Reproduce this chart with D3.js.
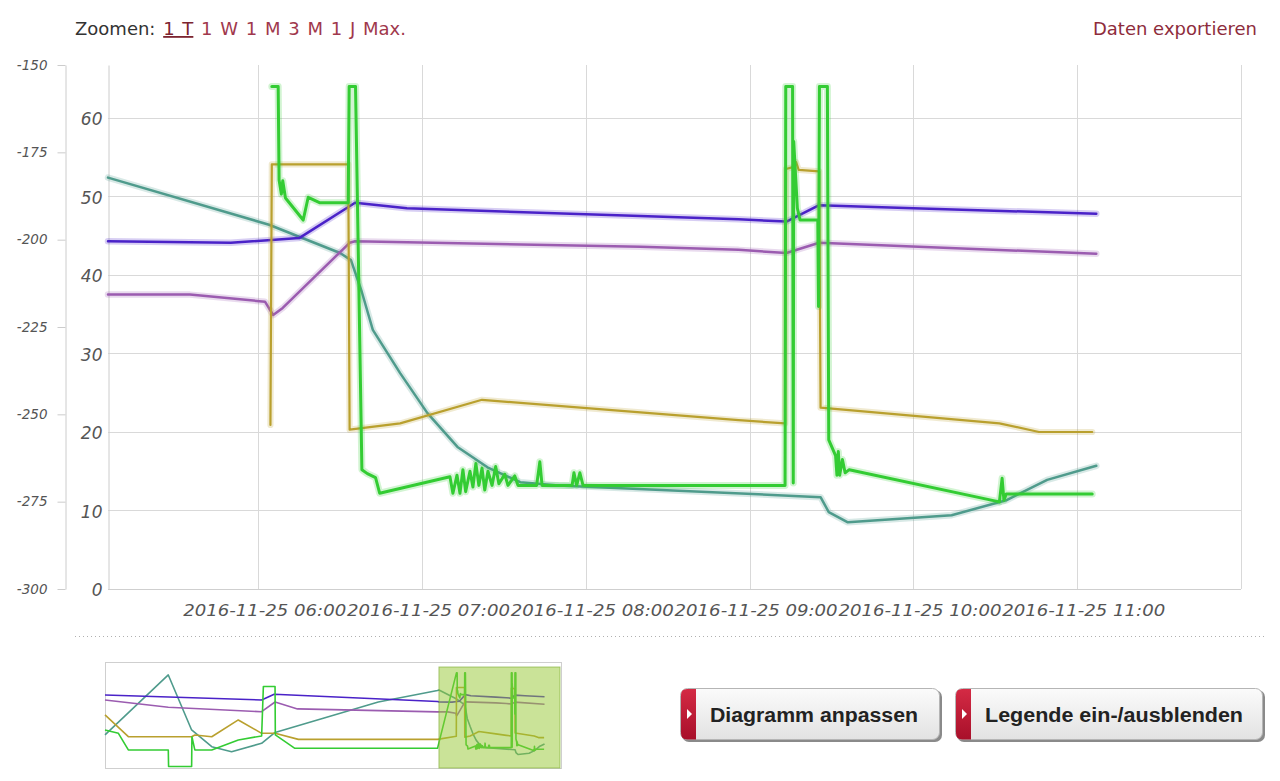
<!DOCTYPE html>
<html><head><meta charset="utf-8">
<script src="https://cdn.jsdelivr.net/npm/d3@7"></script>
<style>body{margin:0;background:#fff;}svg{display:block}</style>
</head><body><svg id="c" width="1280" height="781"></svg>
<script>
// ---------------- DATA ----------------
const day = "2016-11-25";
const xTickLabels = ["2016-11-25 06:00","2016-11-25 07:00","2016-11-25 08:00","2016-11-25 09:00","2016-11-25 10:00","2016-11-25 11:00"];
const yTicksInner = [0,10,20,30,40,50,60];
const yTicksOuter = [-300,-275,-250,-225,-200,-175,-150];
const zoomLabels = ["1 T","1 W","1 M","3 M","1 J","Max."];

const tealTimes  = ["05:05:00","06:04:00","06:30:00","06:34:00","06:38:00","06:42:00","06:52:00","07:02:00","07:13:00","07:24:00","07:36:00","07:50:00","09:26:00","09:29:00","09:36:00","10:14:00","10:34:00","10:49:00","11:07:00"];
const tealValues = [52.4,46.4,42.8,41.9,37.8,33.0,27.5,22.4,18.1,15.5,13.6,13.2,11.7,9.8,8.5,9.4,11.3,13.9,15.7];

const purpleTimes  = ["05:05:00","05:50:00","06:15:00","06:35:30","06:54:30","08:20:00","08:56:00","09:13:30","09:25:30","10:00:00","11:07:00"];
const purpleValues = [44.3,44.1,44.7,49.2,48.5,47.5,47.1,46.8,48.9,48.5,47.8];

const magentaTimes  = ["05:05:00","05:35:00","06:02:30","06:05:30","06:09:00","06:33:30","06:35:30","08:20:00","08:56:00","09:13:30","09:25:30","11:07:00"];
const magentaValues = [37.5,37.5,36.6,34.9,35.8,44.1,44.3,43.6,43.2,42.8,44.1,42.7];

const goldTimes  = ["06:04:30","06:05:00","06:33:00","06:33:30","06:52:00","07:22:00","08:20:00","08:56:00","09:13:00","09:13:20","09:16:30","09:17:00","09:18:00","09:25:30","09:26:00","10:31:30","10:46:00","11:05:30"];
const goldValues = [20.9,54.1,54.1,20.3,21.1,24.1,22.5,21.5,21.1,53.5,53.8,54.4,53.4,53.2,23.1,21.1,20.0,20.0];

const greenTimes = ["06:05:00","06:07:20","06:07:40","06:08:30","06:09:00","06:10:00","06:16:30","06:18:20","06:22:40","06:33:00",
 "06:33:20","06:35:40","06:38:00","06:40:00","06:43:00","06:44:30","07:10:15","07:11:20","07:12:50","07:13:55",
 "07:15:00","07:16:00","07:17:35","07:18:40","07:19:45","07:20:50","07:22:00","07:23:00","07:24:10","07:25:40",
 "07:27:00","07:28:10","07:30:20","07:31:30","07:34:00","07:35:10","07:42:00","07:43:10","07:44:00","07:55:00",
 "07:55:40","07:56:40","07:57:50","07:59:00","09:13:00","09:13:15","09:15:45","09:16:00","09:16:10","09:17:30",
 "09:18:30","09:25:00","09:25:15","09:25:35","09:28:30","09:29:00","09:31:30","09:32:00","09:32:30","09:33:00",
 "09:34:00","09:35:00","09:36:30","10:31:30","10:32:30","10:33:10","10:34:00","11:05:30"];
const greenValues = [64,64,52.1,50.3,52.0,49.8,47.0,49.9,49.2,49.2,
 64,64,15.2,14.7,14.2,12.2,14.3,12.2,14.5,12.2,
 15.2,12.4,15.0,13.0,16.0,13.2,15.4,12.6,15.0,13.2,
 15.6,13.4,14.6,13.2,14.4,13.2,13.2,16.2,13.2,13.2,
 14.8,13.2,14.8,13.2,13.2,64,64,13.5,57,48.5,
 47.0,47.0,36,64,64,19,17,14.5,17.5,14.5,
 16.5,14.8,15.2,11.1,14.1,11.3,12.1,12.1];

// navigator: earlier history (before the zoomed window)
const navHistTeal    = [["2016-11-24 10:00",21.8],["2016-11-24 13:37",62.6],["2016-11-24 14:57",25.2],["2016-11-24 16:06",13.8],["2016-11-24 17:14",10.4],["2016-11-24 18:57",16.1],["2016-11-24 19:43",23.5],["2016-11-25 01:37",44.2],["2016-11-25 05:00",52.0]];
const navHistPurple  = [["2016-11-24 10:00",49.0],["2016-11-24 18:57",45.6],["2016-11-24 19:40",49.5],["2016-11-25 05:00",44.5]];
const navHistMagenta = [["2016-11-24 10:00",45.6],["2016-11-24 13:37",40.6],["2016-11-24 18:57",37.6],["2016-11-24 19:43",44.2],["2016-11-24 21:00",39.5],["2016-11-25 05:00",37.5]];
const navHistGold    = [["2016-11-24 10:00",35.4],["2016-11-24 11:20",20.6],["2016-11-24 14:57",20.6],["2016-11-24 15:08",21.8],["2016-11-24 16:06",20.6],["2016-11-24 17:37",32.0],["2016-11-24 18:57",22.9],["2016-11-24 19:43",22.9],["2016-11-24 21:03",18.8],["2016-11-25 05:00",18.8]];
const navHistGreen   = [["2016-11-24 10:00",25.2],["2016-11-24 10:46",22.9],["2016-11-24 11:20",11.6],["2016-11-24 13:37",11.6],["2016-11-24 13:38",0.3],["2016-11-24 14:57",0.3],["2016-11-24 14:58",20.6],["2016-11-24 15:08",11.6],["2016-11-24 16:06",11.6],["2016-11-24 17:37",18.4],["2016-11-24 18:57",21.1],["2016-11-24 19:03",54.7],["2016-11-24 19:43",54.7],["2016-11-24 19:44",21.8],["2016-11-24 20:51",12.7],["2016-11-25 05:00",12.7]];

// ---------------- CHART ----------------
const parseFull = d3.timeParse("%Y-%m-%d %H:%M:%S");
const parseMin = d3.timeParse("%Y-%m-%d %H:%M");
const T = s => parseFull(day + " " + s);
const zip = (ts, vs) => ts.map((t,i) => ({t: T(t), v: vs[i]}));
const hist = arr => arr.map(d => ({t: parseMin(d[0]), v: d[1]}));

const series = [
  {name:"teal",    color:"#4f9b8c", w:2.5, data: zip(tealTimes, tealValues),       hist: hist(navHistTeal)},
  {name:"magenta", color:"#9b5cb0", w:2.5, data: zip(magentaTimes, magentaValues), hist: hist(navHistMagenta)},
  {name:"purple",  color:"#4a22c8", w:2.5, data: zip(purpleTimes, purpleValues),   hist: hist(navHistPurple)},
  {name:"gold",    color:"#b9a02e", w:2.2, data: zip(goldTimes, goldValues),       hist: hist(navHistGold)},
  {name:"green",   color:"#33cc33", w:3,   data: zip(greenTimes, greenValues),     hist: hist(navHistGreen)}
];

const svg = d3.select("#c");
const font = "'DejaVu Sans', Verdana, sans-serif";

const L = 108, R = 1241, TOP = 65, BOT = 589;
const x = d3.scaleTime().domain([T("05:05:00"), T("12:00:00")]).range([L, R]);
const y = d3.scaleLinear().domain([0, 66.75]).range([BOT, TOP]);
const y2 = d3.scaleLinear().domain([-300, -150]).range([BOT, TOP]);

// grid
const hours = d3.timeHour.range(T("06:00:00"), T("12:00:01"));
svg.append("g").selectAll("line").data(hours).join("line")
  .attr("x1", d => Math.round(x(d)) + 0.5).attr("x2", d => Math.round(x(d)) + 0.5)
  .attr("y1", TOP).attr("y2", BOT).attr("stroke", "#d9d9d9");
svg.append("g").selectAll("line").data(yTicksInner).join("line")
  .attr("x1", L).attr("x2", R)
  .attr("y1", d => Math.round(y(d)) + 0.5).attr("y2", d => Math.round(y(d)) + 0.5)
  .attr("stroke", d => d === 0 ? "#cfcfcf" : "#d9d9d9");

// outer (secondary) axis
const ax2 = svg.append("g").attr("transform", "translate(65.5,0)")
  .call(d3.axisLeft(y2).tickValues(yTicksOuter).tickSize(8).tickSizeOuter(0).tickPadding(10)
    .tickFormat(d => String(d)));
ax2.select(".domain").attr("stroke", "#cccccc");
ax2.selectAll(".tick line").attr("stroke", "#cccccc");
ax2.selectAll("text").attr("font-family", font).attr("font-style", "italic")
  .attr("font-size", 13.5).attr("fill", "#555");

// inner (primary) axis
const ax1 = svg.append("g").attr("transform", `translate(${L + 0.5},0)`)
  .call(d3.axisLeft(y).tickValues(yTicksInner).tickSize(0).tickSizeOuter(0).tickPadding(6));
ax1.select(".domain").attr("stroke", "#cccccc");
ax1.selectAll("text").attr("font-family", font).attr("font-style", "italic")
  .attr("font-size", 17).attr("fill", "#555").attr("dy", "0.4em");

// x axis labels
const axX = svg.append("g").attr("transform", `translate(0,${BOT})`)
  .call(d3.axisBottom(x).tickValues(hours.slice(0, 6)).tickSize(0).tickPadding(0)
    .tickFormat((d, i) => xTickLabels[i]));
axX.select(".domain").remove();
axX.selectAll("text").attr("font-family", font).attr("font-style", "italic")
  .attr("font-size", 16).attr("fill", "#555").attr("y", 27).attr("dy", 0)
  .attr("dx", 6).attr("textLength", 163).attr("lengthAdjust", "spacingAndGlyphs");

// lines
const line = d3.line().x(d => x(d.t)).y(d => y(d.v));
const lg = svg.append("g");
series.forEach(s => {
  lg.append("path").attr("d", line(s.data)).attr("fill", "none")
    .attr("stroke", s.color).attr("stroke-opacity", 0.22).attr("stroke-width", s.w + 4)
    .attr("stroke-linejoin", "round").attr("stroke-linecap", "round");
  lg.append("path").attr("d", line(s.data)).attr("fill", "none")
    .attr("stroke", s.color).attr("stroke-width", s.w)
    .attr("stroke-linejoin", "round").attr("stroke-linecap", "round");
});

// top texts
const zt = svg.append("text").attr("x", 75).attr("y", 35).attr("font-family", font)
  .attr("font-size", 18).attr("fill", "#333").attr("word-spacing", 2);
zt.append("tspan").text("Zoomen: ");
zoomLabels.forEach((lab, i) => {
  const t = zt.append("tspan").attr("fill", i === 0 ? "#7c2430" : "#a0384c").text(lab);
  if (i === 0) t.attr("text-decoration", "underline");
  if (i < zoomLabels.length - 1) zt.append("tspan").text(" ");
});
svg.append("text").attr("x", 1257).attr("y", 35).attr("text-anchor", "end").attr("font-family", font)
  .attr("font-size", 18).attr("fill", "#8e2c3c").text("Daten exportieren");

// dotted separator
svg.append("line").attr("x1", 75).attr("x2", 1266).attr("y1", 636.5).attr("y2", 636.5)
  .attr("stroke", "#b0b0b0").attr("stroke-dasharray", "1,3");

// navigator
const NL = 105, NR = 561, NT = 662, NB = 768;
const nx = d3.scaleTime().domain([parseMin("2016-11-24 10:00"), T("12:00:00")]).range([NL, NR - 1]);
const ny = d3.scaleLinear().domain([0, 68]).range([NB - 1, NT + 5]);
svg.append("rect").attr("x", NL + 0.5).attr("y", NT + 0.5).attr("width", NR - NL).attr("height", NB - NT)
  .attr("fill", "#fff").attr("stroke", "#cfcfcf");
const nline = d3.line().x(d => nx(d.t)).y(d => ny(d.v));
series.forEach(s => {
  svg.append("path").attr("d", nline(s.hist.concat(s.data))).attr("fill", "none")
    .attr("stroke", s.color).attr("stroke-width", 1.6).attr("stroke-linejoin", "round");
});
svg.append("rect").attr("x", nx(T("05:05:00"))).attr("y", NT + 5)
  .attr("width", nx(T("12:00:00")) - nx(T("05:05:00"))).attr("height", NB - NT - 5)
  .attr("fill", "rgba(150,200,50,0.5)").attr("stroke", "rgba(120,170,40,0.6)");

// buttons
const defs = svg.append("defs");
const gr = defs.append("linearGradient").attr("id", "bg").attr("x1", 0).attr("y1", 0).attr("x2", 0).attr("y2", 1);
gr.append("stop").attr("offset", "0%").attr("stop-color", "#fbfbfb");
gr.append("stop").attr("offset", "100%").attr("stop-color", "#e2e2e2");
const rg = defs.append("linearGradient").attr("id", "rb").attr("x1", 0).attr("y1", 0).attr("x2", 0).attr("y2", 1);
rg.append("stop").attr("offset", "0%").attr("stop-color", "#d42a44");
rg.append("stop").attr("offset", "100%").attr("stop-color", "#a8102a");
const buttons = [
  {label: "Diagramm anpassen", x: 680, w: 260, tw: 208},
  {label: "Legende ein-/ausblenden", x: 955, w: 308, tw: 258}
];
buttons.forEach(b => {
  const g = svg.append("g");
  g.append("rect").attr("x", b.x + 2).attr("y", 690).attr("width", b.w).attr("height", 52).attr("rx", 7)
    .attr("fill", "#8a8a8a");
  g.append("rect").attr("x", b.x + 0.5).attr("y", 688.5).attr("width", b.w - 1).attr("height", 51).attr("rx", 7)
    .attr("fill", "url(#bg)").attr("stroke", "#b5b5b5");
  g.append("path").attr("d", `M${b.x + 16},689 L${b.x + 7},689 Q${b.x + 1},689 ${b.x + 1},695 L${b.x + 1},733 Q${b.x + 1},739.5 ${b.x + 7},739.5 L${b.x + 16},739.5 Z`)
    .attr("fill", "url(#rb)");
  g.append("path").attr("d", `M${b.x + 7},709 L${b.x + 12},714 L${b.x + 7},719 Z`).attr("fill", "#fff");
  g.append("text").attr("x", b.x + 30).attr("y", 722).attr("font-family", "'Liberation Sans', Arial, sans-serif")
    .attr("font-weight", "bold").attr("font-size", 20).attr("fill", "#222")
    .attr("textLength", b.tw).attr("lengthAdjust", "spacingAndGlyphs").text(b.label);
});
</script>
</body></html>
